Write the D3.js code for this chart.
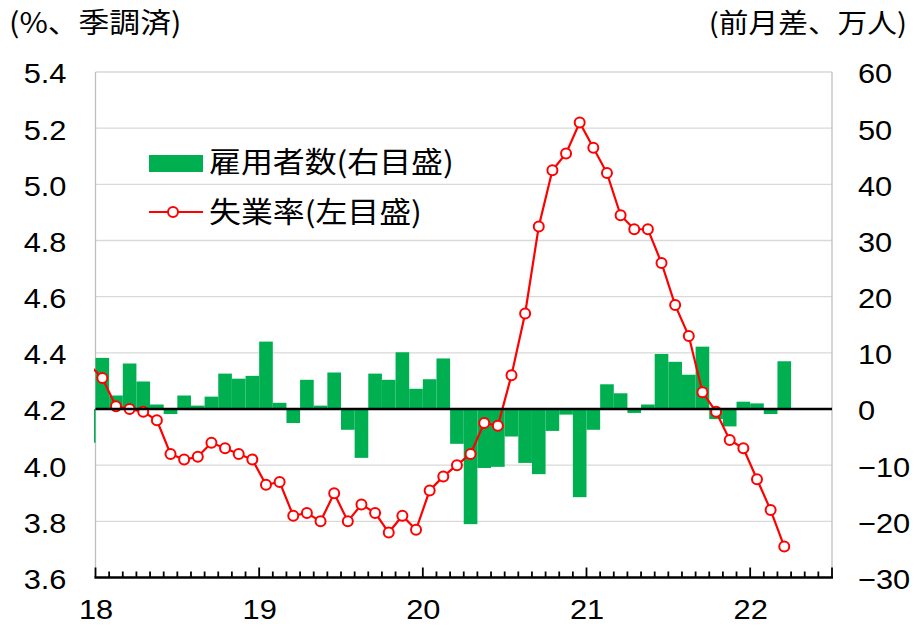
<!DOCTYPE html>
<html>
<head>
<meta charset="utf-8">
<script src="https://cdn.jsdelivr.net/npm/d3@7"></script>
<style>
  body { margin: 0; background: #fff; }
  svg text { font-family: "Liberation Sans", Arial, sans-serif; fill: #000; }
  svg text.jp { font-family: "Noto Sans CJK JP", sans-serif; }
</style>
</head>
<body>
<svg id="chart"></svg>
<script>
// months Dec 2017 .. Mar 2022 (index -1 = Dec 2017, mostly hidden at the left edge)
const firstMonth = new Date(2017, 11, 1);
const months = d3.timeMonth.range(firstMonth, new Date(2022, 3, 1));

// 雇用者数, 前月差 (万人)
const employment = [
  -6,
  9.1, 2.4, 8.1, 4.9, 0.8, -0.9, 2.4, 0.6, 2.2, 6.3, 5.4, 5.9,
  12.0, 1.1, -2.5, 5.2, 0.6, 6.5, -3.7, -8.7, 6.3, 5.2, 10.1, 3.6,
  5.3, 9.0, -6.2, -20.5, -10.5, -10.3, -4.9, -9.6, -11.6, -3.9, -1.0, -15.7,
  -3.7, 4.4, 2.8, -0.7, 0.8, 9.8, 8.4, 6.1, 11.1, -1.8, -3.1, 1.3,
  1.0, -0.9, 8.5
];

// 失業率 (%, 季調済)
const unemployment = [
  4.36,
  4.31, 4.21, 4.20, 4.19, 4.16, 4.04, 4.02, 4.03, 4.08, 4.06, 4.04, 4.02,
  3.93, 3.94, 3.82, 3.83, 3.80, 3.90, 3.80, 3.86, 3.83, 3.76, 3.82, 3.77,
  3.91, 3.96, 4.00, 4.04, 4.15, 4.14, 4.32, 4.54, 4.85, 5.05, 5.11, 5.22,
  5.13, 5.04, 4.89, 4.84, 4.84, 4.72, 4.57, 4.46, 4.26, 4.19, 4.09, 4.06,
  3.95, 3.84, 3.71
];

const leftTicks = [3.6, 3.8, 4.0, 4.2, 4.4, 4.6, 4.8, 5.0, 5.2, 5.4];
const rightTicks = [-30, -20, -10, 0, 10, 20, 30, 40, 50, 60];
const yearLabels = ["18", "19", "20", "21", "22"];

const width = 916, height = 629;
const plot = { left: 95.5, right: 832, top: 72, bottom: 577.5 };
const sx = 1.1;   // horizontal stretch of the number labels
const sxJp = 1.1; // horizontal stretch of the Japanese labels

const svg = d3.select("#chart").attr("width", width).attr("height", height);

const data = months.map((d, i) => ({
  idx: d3.timeMonth.count(new Date(2018, 0, 1), d),
  emp: employment[i],
  rate: unemployment[i]
}));

const x = d3.scaleLinear().domain([0, 54]).range([plot.left, plot.right]);
const yL = d3.scaleLinear().domain([3.6, 5.4]).range([plot.bottom, plot.top]);
const yR = d3.scaleLinear().domain([-30, 60]).range([plot.bottom, plot.top]);

svg.append("clipPath").attr("id", "clip")
  .append("rect")
  .attr("x", plot.left - 1.5).attr("y", plot.top)
  .attr("width", plot.right - plot.left + 1.5).attr("height", plot.bottom - plot.top);

// gridlines
svg.append("g")
  .selectAll("line")
  .data(leftTicks.slice(1))
  .join("line")
    .attr("x1", plot.left).attr("x2", plot.right)
    .attr("y1", d => yL(d)).attr("y2", d => yL(d))
    .attr("stroke", "#d9d9d9").attr("stroke-width", 1.3);

// side axis lines (grey)
svg.append("line")
  .attr("x1", plot.left).attr("x2", plot.left)
  .attr("y1", plot.top).attr("y2", plot.bottom)
  .attr("stroke", "#bfbfbf").attr("stroke-width", 1.3);
svg.append("line")
  .attr("x1", plot.right).attr("x2", plot.right)
  .attr("y1", plot.top).attr("y2", plot.bottom)
  .attr("stroke", "#bfbfbf").attr("stroke-width", 1.3);

const inner = svg.append("g").attr("clip-path", "url(#clip)");

// bars
inner.append("g")
  .selectAll("rect")
  .data(data)
  .join("rect")
    .attr("x", d => x(d.idx))
    .attr("width", d => x(d.idx + 1) - x(d.idx))
    .attr("y", d => yR(Math.max(0, d.emp)))
    .attr("height", d => Math.abs(yR(d.emp) - yR(0)))
    .attr("fill", "#00b050");

// zero line
svg.append("line")
  .attr("x1", plot.left).attr("x2", plot.right)
  .attr("y1", yR(0)).attr("y2", yR(0))
  .attr("stroke", "#000").attr("stroke-width", 2.5);

// unemployment line
const line = d3.line()
  .x(d => x(d.idx + 0.5))
  .y(d => yL(d.rate));

inner.append("path")
  .datum(data)
  .attr("d", line)
  .attr("fill", "none")
  .attr("stroke", "#ff0000")
  .attr("stroke-width", 2.2);

inner.append("g")
  .selectAll("circle")
  .data(data.filter(d => d.idx >= 0))
  .join("circle")
    .attr("cx", d => x(d.idx + 0.5))
    .attr("cy", d => yL(d.rate))
    .attr("r", 5)
    .attr("fill", "#fff")
    .attr("stroke", "#ff0000")
    .attr("stroke-width", 2);

// x axis: monthly minor ticks (pointing up), yearly major ticks with labels
const xAxis = svg.append("g").attr("transform", `translate(0,${plot.bottom})`);
xAxis.selectAll("line.minor")
  .data(d3.range(0, 55))
  .join("line")
    .attr("class", "minor")
    .attr("x1", d => x(d)).attr("x2", d => x(d))
    .attr("y1", 0).attr("y2", d => d % 12 === 0 || d === 54 ? -10 : -6)
    .attr("stroke", "#000").attr("stroke-width", 1.8);
xAxis.append("line")
  .attr("x1", plot.left - 1).attr("x2", plot.right + 1)
  .attr("y1", 0).attr("y2", 0)
  .attr("stroke", "#000").attr("stroke-width", 2.5);

const xMajor = d3.axisBottom(x)
  .tickValues([0, 12, 24, 36, 48])
  .tickSize(0)
  .tickPadding(22)
  .tickFormat((d, i) => yearLabels[i]);
xAxis.append("g")
  .call(xMajor)
  .call(g => g.select(".domain").remove())
  .call(g => g.selectAll(".tick text")
    .attr("font-size", 28)
    .attr("font-family", "Liberation Sans, Arial, sans-serif")
    .attr("fill", "#000")
    .attr("transform", `scale(${sx},1)`)
    .attr("x", 0));

// left axis labels
svg.append("g")
  .attr("transform", `translate(${plot.left},0)`)
  .call(d3.axisLeft(yL).tickValues(leftTicks).tickSize(0).tickFormat(d3.format(".1f")))
  .call(g => g.select(".domain").remove())
  .call(g => g.selectAll(".tick text")
    .attr("font-size", 28)
    .attr("font-family", "Liberation Sans, Arial, sans-serif")
    .attr("fill", "#000")
    .attr("x", 0)
    .attr("transform", `translate(-29,2) scale(${sx},1)`));

// right axis labels
svg.append("g")
  .attr("transform", `translate(${plot.right},0)`)
  .call(d3.axisRight(yR).tickValues(rightTicks).tickSize(0).tickFormat(d3.format("d")))
  .call(g => g.select(".domain").remove())
  .call(g => g.selectAll(".tick text")
    .attr("font-size", 28)
    .attr("font-family", "Liberation Sans, Arial, sans-serif")
    .attr("fill", "#000")
    .attr("x", 0)
    .attr("transform", `translate(26,2) scale(${sx},1)`));

// axis titles
svg.append("text").attr("class", "jp")
  .attr("font-size", 28)
  .attr("transform", `translate(9,33) scale(${sxJp},1)`)
  .text("(%、季調済)");
svg.append("text").attr("class", "jp")
  .attr("text-anchor", "end")
  .attr("font-size", 27)
  .attr("transform", `translate(907,33) scale(${sxJp},1)`)
  .text("(前月差、万人)");

// legend
const legend = svg.append("g").attr("transform", "translate(149,0)");
legend.append("rect")
  .attr("x", 0).attr("y", 155)
  .attr("width", 54).attr("height", 17)
  .attr("fill", "#00b050");
legend.append("text").attr("class", "jp")
  .attr("font-size", 29)
  .attr("transform", `translate(60,173) scale(${sxJp},1)`)
  .text("雇用者数(右目盛)");
legend.append("line")
  .attr("x1", 0).attr("x2", 54)
  .attr("y1", 212).attr("y2", 212)
  .attr("stroke", "#ff0000").attr("stroke-width", 2.2);
legend.append("circle")
  .attr("cx", 24).attr("cy", 212).attr("r", 5)
  .attr("fill", "#fff").attr("stroke", "#ff0000").attr("stroke-width", 2);
legend.append("text").attr("class", "jp")
  .attr("font-size", 29)
  .attr("transform", `translate(60,223) scale(${sxJp},1)`)
  .text("失業率(左目盛)");
</script>
</body>
</html>
